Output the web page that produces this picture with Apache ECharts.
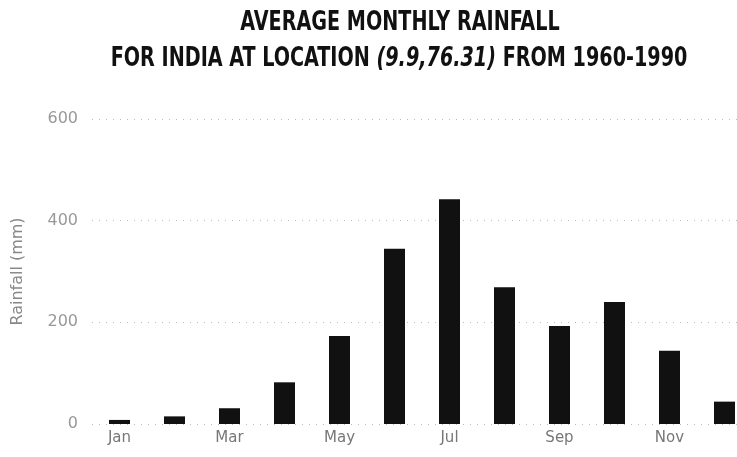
<!DOCTYPE html>
<html><head><meta charset="utf-8">
<script src="https://cdn.jsdelivr.net/npm/echarts@6/dist/echarts.min.js"></script>
<style>html,body{margin:0;padding:0;background:#fff;overflow:hidden}#c{width:760px;height:457px}</style>
</head><body><div id="c"></div>
<script>
const months = ['Jan','Feb','Mar','Apr','May','Jun','Jul','Aug','Sep','Oct','Nov','Dec'];
const rainfall = [8, 15, 31, 82, 173, 345, 442, 269, 193, 240, 144, 44];
const yTicks = [0, 200, 400, 600];
const titleLine1 = 'AVERAGE MONTHLY RAINFALL';
const titleLine2 = 'FOR INDIA AT LOCATION ';
const titleLoc = '(9.9,76.31)';
const titleLine3 = ' FROM 1960-1990';

const TF = '"DejaVu Sans Condensed", "DejaVu Sans", sans-serif';
const chart = echarts.init(document.getElementById('c'));
chart.setOption({
  animation: false,
  backgroundColor: '#fff',
  graphic: [
    {type: 'text', x: 400, y: 23, scaleX: 0.82,
     style: {text: titleLine1, fontFamily: TF, fontWeight: 'bold', fontSize: 26, fill: '#111', align: 'center', verticalAlign: 'middle'}},
    {type: 'text', x: 399, y: 59, scaleX: 0.82,
     style: {text: '{a|' + titleLine2 + '}{i|' + titleLoc + '}{a|' + titleLine3 + '}',
       align: 'center', verticalAlign: 'middle',
       rich: {
         a: {fontFamily: TF, fontWeight: 'bold', fontSize: 26, fill: '#111'},
         i: {fontFamily: TF, fontWeight: 'bold', fontStyle: 'italic', fontSize: 26, fill: '#111'}
       }}}
  ],
  grid: {left: 92, right: 8, top: 119, bottom: 33},
  xAxis: {
    type: 'category', data: months,
    axisLine: {show: false}, axisTick: {show: false},
    axisLabel: {interval: 1, color: '#777', fontFamily: 'DejaVu Sans', fontSize: 15, margin: 7}
  },
  yAxis: {
    type: 'value', min: yTicks[0], max: yTicks[yTicks.length - 1], interval: 200,
    name: 'Rainfall (mm)', nameLocation: 'middle', nameGap: 66, nameRotate: 90,
    nameTextStyle: {color: '#888', fontFamily: 'DejaVu Sans', fontSize: 16},
    axisLabel: {color: '#999', fontFamily: 'DejaVu Sans', fontSize: 16, margin: 14},
    axisLine: {show: false}, axisTick: {show: false},
    splitLine: {lineStyle: {color: '#bbb', type: [1, 6], width: 1}}
  },
  series: [{
    type: 'bar', data: rainfall, barWidth: 21,
    itemStyle: {color: '#111'}
  }]
});
</script></body></html>
